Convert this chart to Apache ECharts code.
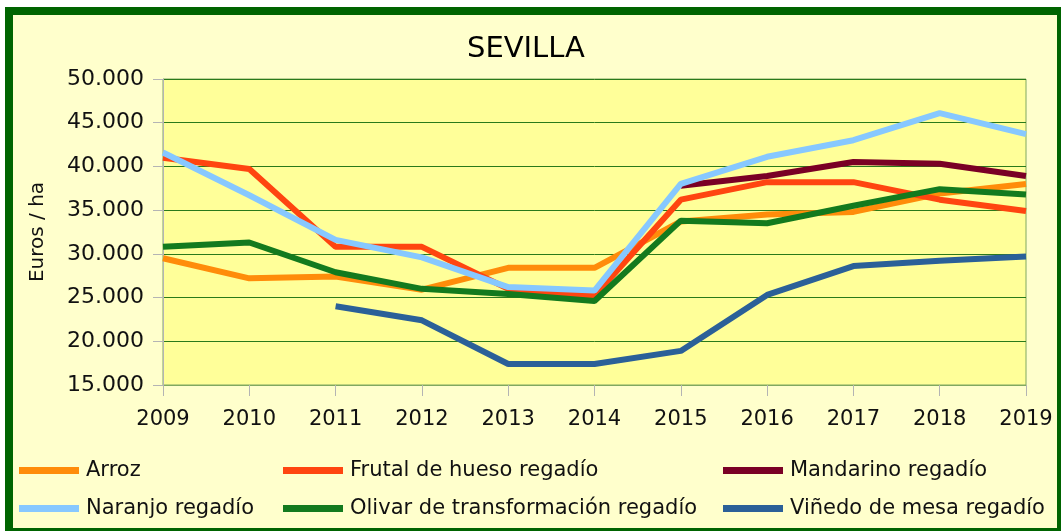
<!DOCTYPE html>
<html>
<head>
<meta charset="utf-8">
<script src="https://cdn.jsdelivr.net/npm/echarts@6/dist/echarts.min.js"></script>
<style>
  html, body { margin: 0; padding: 0; background: #ffffff; }
  #chart-container { width: 1061px; height: 531px; }
</style>
</head>
<body>
<div id="chart-container"></div>
<script>
const anios = ['2009', '2010', '2011', '2012', '2013', '2014', '2015', '2016', '2017', '2018', '2019'];

const arroz = [29500, 27200, 27400, 25900, 28400, 28400, 33700, 34500, 34800, 36900, 38000];
const frutal = [41000, 39700, 30800, 30800, 26000, 25200, 36200, 38200, 38200, 36200, 34900];
const mandarino = [null, null, null, null, null, null, 37800, 38900, 40500, 40300, 38900];
const naranjo = [41600, 36700, 31600, 29600, 26200, 25800, 38000, 41100, 43000, 46100, 43700];
const olivar = [30800, 31300, 27900, 26000, 25400, 24600, 33800, 33500, 35500, 37400, 36800];
const vinedo = [null, null, 24000, 22400, 17400, 17400, 18900, 25300, 28600, 29200, 29700];

const nombres = ['Arroz', 'Frutal de hueso regadío', 'Mandarino regadío',
  'Naranjo regadío', 'Olivar de transformación regadío', 'Viñedo de mesa regadío'];
const colores = ['#FF8C0A', '#FF4510', '#7A0025', '#87C8FF', '#137A1E', '#2B6098'];
const valores = [arroz, frutal, mandarino, naranjo, olivar, vinedo];

const fuente = 'DejaVu Sans';

let myChart = echarts.init(document.getElementById('chart-container'), null, {
  renderer: 'canvas'
});

function leyenda(izq, items) {
  return {
    orient: 'vertical',
    left: izq,
    top: 460,
    padding: 0,
    itemGap: 17,
    itemWidth: 60,
    itemHeight: 7,
    icon: 'rect',
    data: items,
    selectedMode: false,
    textStyle: {
      fontFamily: fuente,
      fontSize: 21,
      lineHeight: 21,
      color: '#111',
      padding: [0, 0, 0, 2]
    }
  };
}

const opciones = {
  animation: false,
  backgroundColor: '#FFFFCC',
  color: colores,
  graphic: [{
    type: 'rect',
    shape: { x: 9, y: 11, width: 1052, height: 521 },
    style: { fill: 'none', stroke: '#006400', lineWidth: 8 },
    z: 100
  }, {
    type: 'rect',
    shape: { x: 0, y: 0, width: 1061, height: 7 },
    style: { fill: '#ffffff' },
    z: 100
  }, {
    type: 'rect',
    shape: { x: 0, y: 0, width: 5, height: 531 },
    style: { fill: '#ffffff' },
    z: 100
  }],
  title: {
    text: 'SEVILLA',
    left: 467,
    top: 35,
    padding: 0,
    textStyle: { fontFamily: fuente, fontSize: 29, fontWeight: 'normal', color: '#000' }
  },
  legend: [
    leyenda(19, [nombres[0], nombres[3]]),
    leyenda(283, [nombres[1], nombres[4]]),
    leyenda(723, [nombres[2], nombres[5]])
  ],
  grid: {
    left: 163,
    right: 35,
    top: 79,
    bottom: 146,
    show: true,
    backgroundColor: '#FFFF99',
    borderColor: '#80A860',
    borderWidth: 1
  },
  xAxis: {
    type: 'category',
    data: anios,
    boundaryGap: false,
    axisLine: { lineStyle: { color: '#80A860', width: 1 } },
    axisTick: { show: true, length: 11, lineStyle: { color: '#B4B4B4' } },
    axisLabel: { fontFamily: fuente, fontSize: 21, color: '#111', margin: 24 },
    splitLine: { show: false }
  },
  yAxis: {
    type: 'value',
    min: 15000,
    max: 50000,
    interval: 5000,
    name: 'Euros / ha',
    nameLocation: 'middle',
    nameGap: 115,
    nameTextStyle: { fontFamily: fuente, fontSize: 20, color: '#111' },
    axisLine: { show: true, lineStyle: { color: '#B4B4B4' } },
    axisTick: { show: true, length: 10, lineStyle: { color: '#B4B4B4' } },
    axisLabel: {
      fontFamily: fuente,
      fontSize: 22,
      color: '#111',
      margin: 19,
      formatter: v => (v / 1000).toFixed(3)
    },
    splitLine: { lineStyle: { color: '#2A7A1A', width: 1 } }
  },
  series: nombres.map((n, i) => ({
    name: n,
    type: 'line',
    data: valores[i],
    showSymbol: false,
    symbol: 'none',
    connectNulls: false,
    lineStyle: { width: 6, color: colores[i] },
    itemStyle: { color: colores[i] }
  }))
};

myChart.setOption(opciones);
window.addEventListener('resize', myChart.resize);
</script>
</body>
</html>
